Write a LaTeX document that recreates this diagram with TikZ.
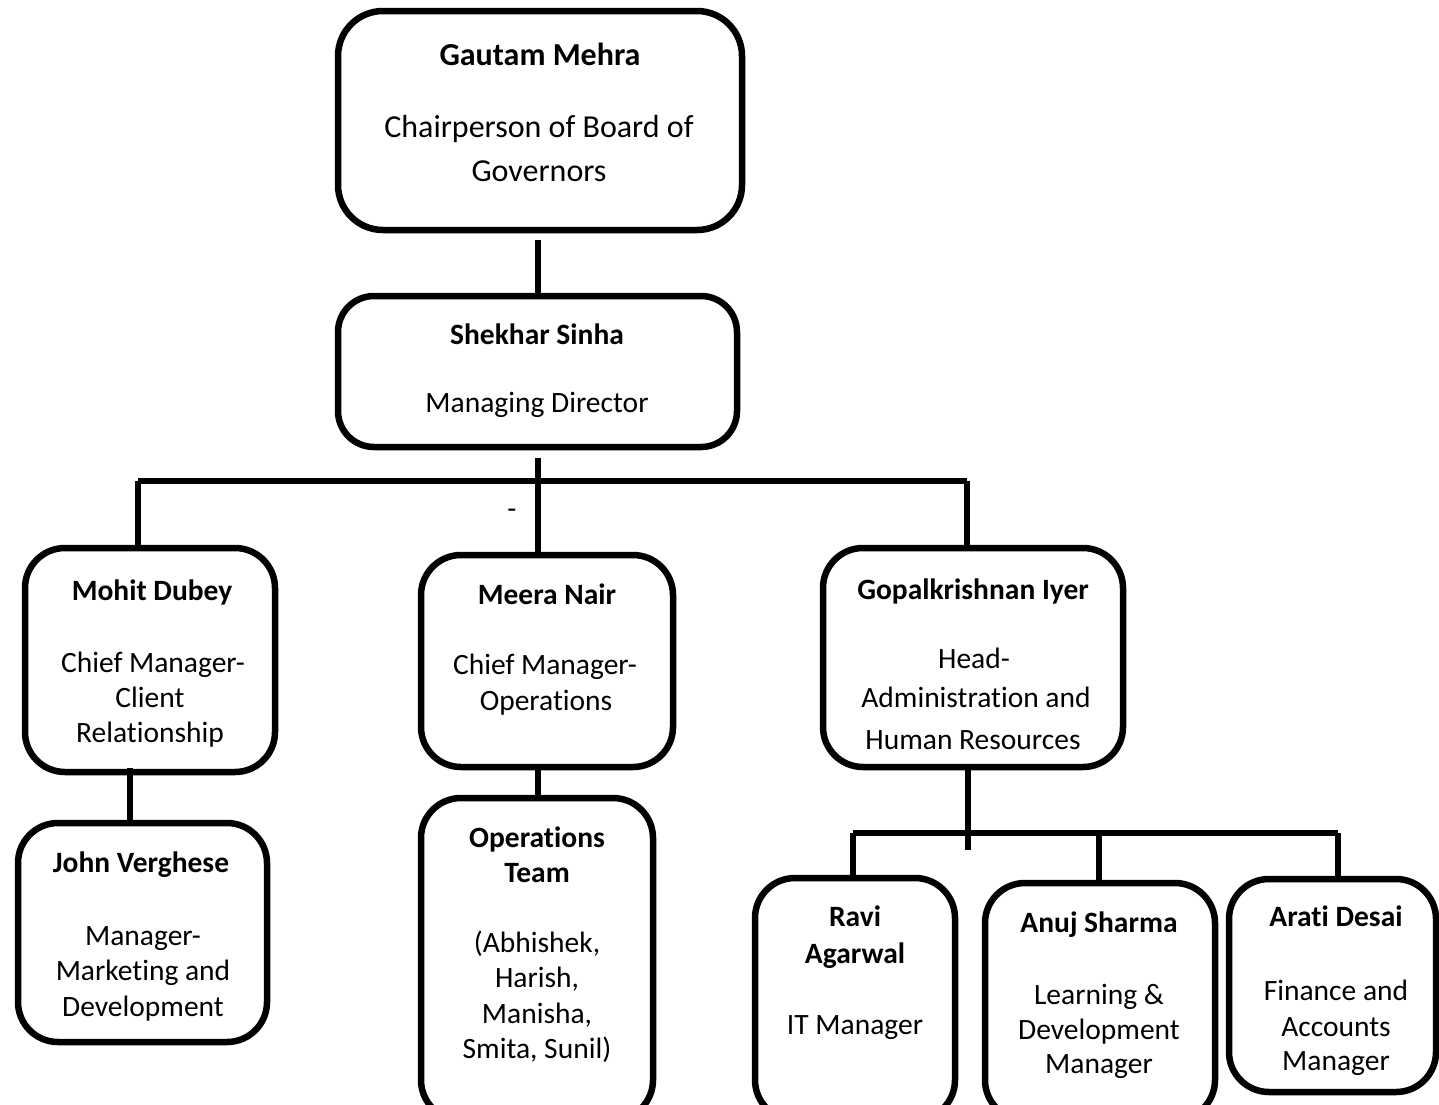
\documentclass[tikz,border=0pt]{standalone}
\usepackage{fontspec}
\setmainfont{Carlito}[Ligatures=NoCommon]
\begin{document}
\begin{tikzpicture}[x=1pt,y=-1pt,
  box/.style={draw=black,line width=6.5pt,rounded corners=40pt,inner sep=0pt,fill=white},
  conn/.style={draw=black,line width=5.5pt},
  txt/.style={anchor=base,inner sep=0pt,font=\fontsize{29.5}{34}\selectfont},
  nm/.style={anchor=base,inner sep=0pt,font=\fontsize{29.5}{34}\selectfont\bfseries},
  bigtxt/.style={anchor=base,inner sep=0pt,font=\fontsize{32}{38}\selectfont},
  bignm/.style={anchor=base,inner sep=0pt,font=\fontsize{32}{38}\selectfont\bfseries}]
\useasboundingbox (0,0) rectangle (1439,1104);
% boxes
\node[box,rounded corners=45pt,minimum width=404pt,minimum height=219pt] (top) at (540,120.5) {};
\node[box,rounded corners=36pt,minimum width=399pt,minimum height=151pt] (md) at (537.5,371.5) {};
\node[box,minimum width=250pt,minimum height=224pt] (mohit) at (150,660) {};
\node[box,minimum width=249pt,minimum height=219pt] (john) at (142.5,932.5) {};
\node[box,minimum width=252pt,minimum height=212pt] (meera) at (547,661) {};
\node[box,minimum width=232pt,minimum height=322pt] (ops) at (537,959) {};
\node[box,minimum width=300pt,minimum height=219pt] (gopal) at (973,657.5) {};
\node[box,minimum width=200pt,minimum height=242pt] (ravi) at (855,999) {};
\node[box,minimum width=230pt,minimum height=237pt] (anuj) at (1100,1001.5) {};
\node[box,minimum width=207pt,minimum height=213pt] (arati) at (1332.5,985.5) {};
% connectors
\coordinate (ta) at (538,240);
\draw[conn] (ta) -- (ta |- md.north);
\coordinate (mda) at (538,458);
\coordinate (b1) at (138,481);
\coordinate (b3) at (967,481);
\draw[conn] (b1) -- (b3);
\draw[conn] (mda) -- (mda |- meera.north);
\draw[conn] (b1) -- (b1 |- mohit.north);
\draw[conn] (b3) -- (b3 |- gopal.north);
\coordinate (ma) at (130,768);
\draw[conn] (ma) -- (ma |- john.north);
\coordinate (mea) at (538,766);
\draw[conn] (mea) -- (mea |- ops.north);
\coordinate (ga) at (968,770);
\coordinate (gb) at (968,850);
\draw[conn] (ga) -- (gb);
\coordinate (c1) at (853,833);
\coordinate (c2) at (1099,833);
\coordinate (c3) at (1338,833);
\draw[conn] (c1) -- (c3);
\draw[conn] (c1) -- (c1 |- ravi.north);
\draw[conn] (c2) -- (c2 |- anuj.north);
\draw[conn] (c3) -- (c3 |- arati.north);
\node[txt] (dash) at (512,518) {-};
% texts
\node[bignm] (t1) at (540,65) {Gautam Mehra};
\node[bigtxt] (t2) at (539,137) {Chairperson of Board of};
\node[bigtxt] (t3) at (539,181) {Governors};
\node[nm] (s1) at (537,344) {Shekhar Sinha};
\node[txt] (s2) at (537,412) {Managing Director};
\node[nm] (m1) at (152,600) {Mohit Dubey};
\node[txt] (m2) at (153,672) {Chief Manager-};
\node[txt] (m3) at (150,707) {Client};
\node[txt] (m4) at (150,742) {Relationship};
\node[nm] (j1) at (141,872) {John Verghese};
\node[txt] (j2) at (143,945) {Manager-};
\node[txt] (j3) at (143,980) {Marketing and};
\node[txt] (j4) at (143,1016) {Development};
\node[nm] (e1) at (547,604) {Meera Nair};
\node[txt] (e2) at (545,674) {Chief Manager-};
\node[txt] (e3) at (546,710) {Operations};
\node[nm] (o1) at (537,847) {Operations};
\node[nm] (o2) at (537,882) {Team};
\node[txt] (o3) at (537,952) {(Abhishek,};
\node[txt] (o4) at (537,987) {Harish,};
\node[txt] (o5) at (537,1023) {Manisha,};
\node[txt] (o6) at (537,1058) {Smita, Sunil)};
\node[nm] (g1) at (973,599) {Gopalkrishnan Iyer};
\node[txt] (g2) at (974,668) {Head-};
\node[txt] (g3) at (976,707) {Administration and};
\node[txt] (g4) at (973,749) {Human Resources};
\node[nm] (r1) at (855,926) {Ravi};
\node[nm] (r2) at (855,963) {Agarwal};
\node[txt] (r3) at (855,1034) {IT Manager};
\node[nm] (a1) at (1099,932) {Anuj Sharma};
\node[txt] (a2) at (1099,1004) {Learning \&};
\node[txt] (a3) at (1099,1039) {Development};
\node[txt] (a4) at (1099,1073) {Manager};
\node[nm] (d1) at (1336,926) {Arati Desai};
\node[txt] (d2) at (1336,1000) {Finance and};
\node[txt] (d3) at (1336,1036) {Accounts};
\node[txt] (d4) at (1336,1070) {Manager};
\end{tikzpicture}
\end{document}
